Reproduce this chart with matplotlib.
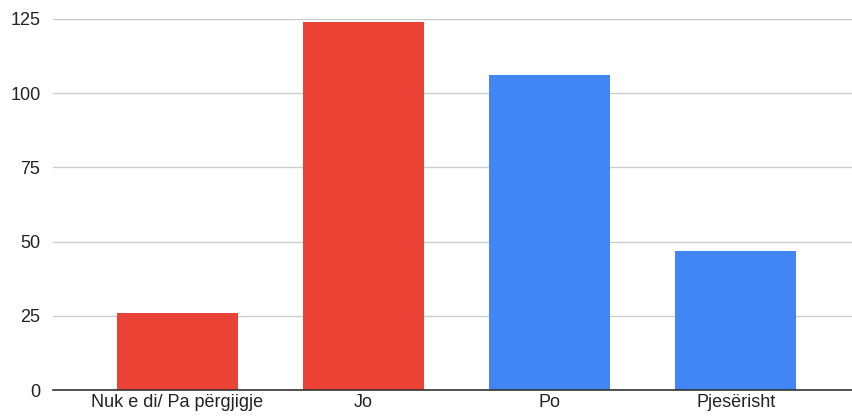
import matplotlib.pyplot as plt

categories = ["Nuk e di/ Pa përgjigje", "Jo", "Po", "Pjesërisht"]
values = [26, 124, 106, 47]
colors = ["#EA4335", "#EA4335", "#4285F4", "#4285F4"]
yticks = [0, 25, 50, 75, 100, 125]

plt.rcParams['font.family'] = ['Liberation Sans', 'DejaVu Sans']

fig = plt.figure(figsize=(8.53, 4.19), dpi=100)
ax = fig.add_axes([0.062, 0.069, 0.938, 0.886])

x = range(len(categories))
ax.bar(x, values, width=0.65, color=colors, zorder=3)

ax.set_ylim(0, 125)
ax.set_xlim(-0.67, 3.63)
ax.set_yticks(yticks)
ax.set_xticks(list(x))
ax.set_xticklabels(categories)
ax.grid(axis='y', color='#cccccc', linewidth=1, zorder=0)
ax.tick_params(length=0, labelsize=13, colors='#222222')
ax.tick_params(axis='y', pad=9)
ax.tick_params(axis='x', pad=3)

for s in ['top', 'right', 'left']:
    ax.spines[s].set_visible(False)
ax.spines['bottom'].set_color('#333333')
ax.spines['bottom'].set_linewidth(1.2)
ax.spines['bottom'].set_zorder(4)

fig.savefig("out.png", dpi=100)
